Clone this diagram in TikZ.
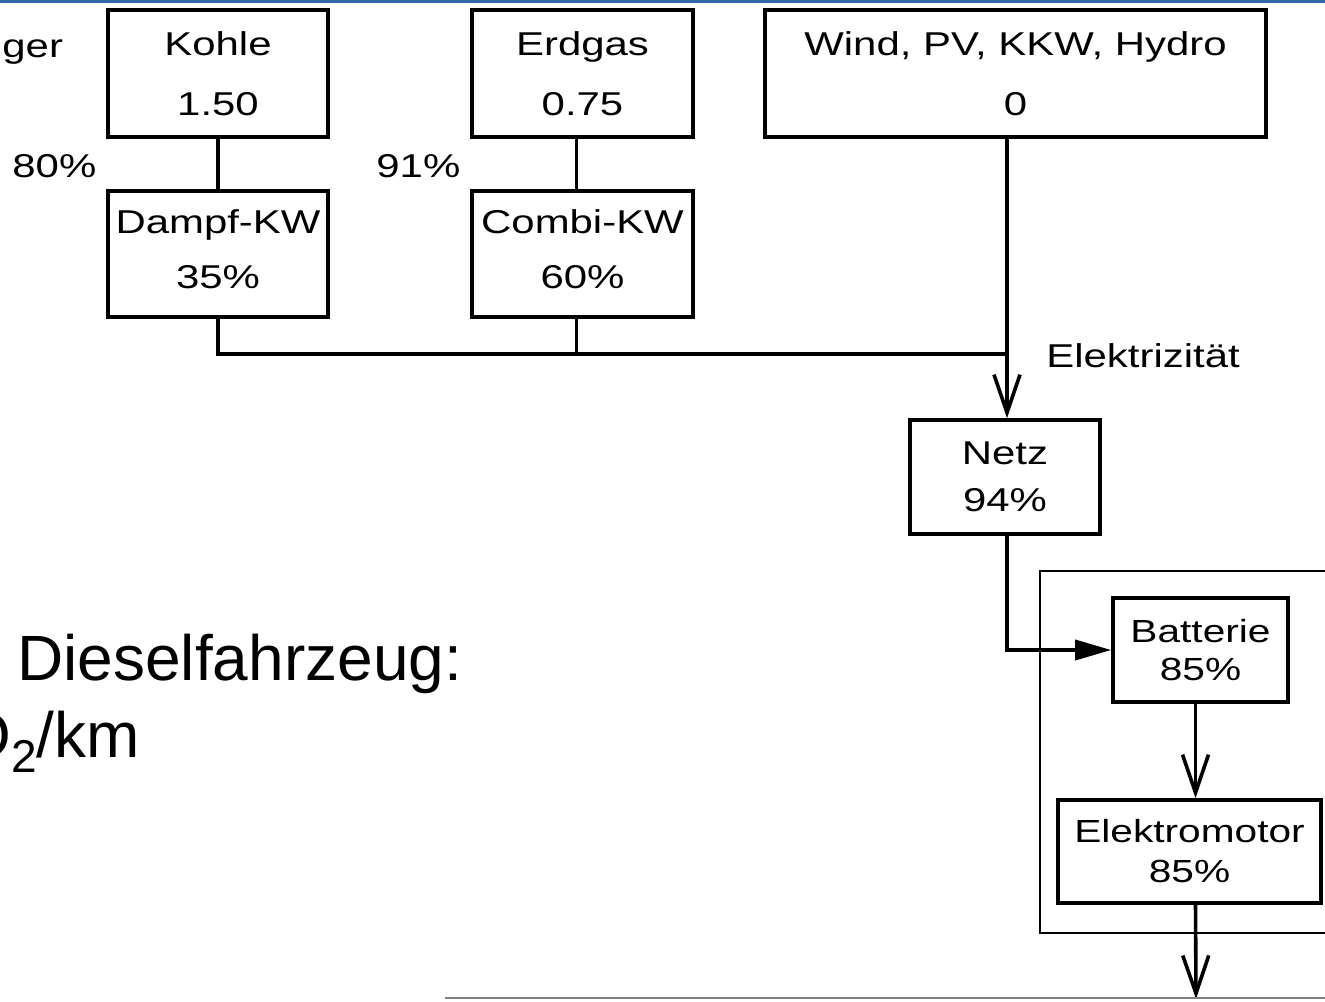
\documentclass[tikz,border=0pt]{standalone}
\usepackage{fontspec}
\usepackage{xcolor}
\usepackage{tikz}
\usetikzlibrary{arrows.meta,calc}
\setmainfont{Liberation Sans}
\newfontfamily\boxfont[FakeStretch=1.27]{Liberation Sans}
\definecolor{slideblue}{RGB}{52,104,170}
\tikzset{
  flowbox/.style={rectangle, draw=black, line width=1.8pt, inner sep=0pt,
    align=center, font=\boxfont\fontsize{16.5}{30}\selectfont},
  flowline/.style={line width=1.8pt},
  openarrow/.style={flowline, -{Straight Barb[length=19pt,width=13pt,line width=1.8pt]}},
  fullarrow/.style={flowline, -{Triangle[length=18pt,width=10pt]}},
  plainlabel/.style={anchor=base west, inner sep=0pt, font=\boxfont\fontsize{16.5}{19}\selectfont}
}
\begin{document}
\begin{tikzpicture}[x=0.5pt,y=-0.5pt]
\useasboundingbox (0,0) rectangle (1325,1001);
\clip (0,0) rectangle (1325,1001);
\fill[slideblue] (0,0) rectangle (1325,3);

\node[flowbox, minimum width=110pt, minimum height=63.5pt] (kohle) at (218,73.5) {Kohle\\1.50};
\node[flowbox, minimum width=110.5pt, minimum height=63.5pt] (erdgas) at (582.5,73.5) {Erdgas\\0.75};
\node[flowbox, minimum width=250.5pt, minimum height=63.5pt] (wind) at (1015.5,73.5) {Wind, PV, KKW, Hydro\\0};
\node[flowbox, minimum width=110pt, minimum height=63pt, text depth=5pt,
      font=\boxfont\fontsize{16.5}{27.5}\selectfont] (dampf) at (218,254) {Dampf-KW\\35\%};
\node[flowbox, minimum width=110.5pt, minimum height=63pt, text depth=5pt,
      font=\boxfont\fontsize{16.5}{27.5}\selectfont] (combi) at (582.5,254) {Combi-KW\\60\%};
\node[flowbox, minimum width=95pt, minimum height=57pt,
      font=\boxfont\fontsize{16.5}{23.5}\selectfont] (netz) at (1005,477) {Netz\\94\%};
\node[flowbox, minimum width=87.5pt, minimum height=52pt,
      font=\boxfont\fontsize{16}{19}\selectfont] (batterie) at (1200.5,650) {Batterie\\85\%};
\node[flowbox, minimum width=131.5pt, minimum height=51.5pt,
      font=\boxfont\fontsize{16}{20}\selectfont] (motor) at (1189.5,851.5) {Elektromotor\\85\%};

\node[plainlabel] (traeger) at (2,57) {ger};
\node[plainlabel] (wkohle) at (12,177) {80\%};
\node[plainlabel] (werdgas) at (376,177) {91\%};
\node[plainlabel] (strom) at (1046,367) {Elektrizität};

\coordinate (bus) at (1007,354);
\coordinate (ende) at (1196,999);

\draw[flowline] (kohle.south) -- (dampf.north);
\draw[flowline] ($(erdgas.south)+(-6,0)$) -- ($(combi.north)+(-6,0)$);
\draw[flowline] (dampf.south) -- (dampf.south |- bus) -- (bus);
\draw[flowline] ($(combi.south)+(-6,0)$) -- ($(combi.south |- bus)+(-6,0)$);
\draw[openarrow] (wind.south -| bus) -- (bus |- netz.north);
\draw[fullarrow] (netz.south -| bus) |- (batterie.west);
\draw[openarrow] ($(batterie.south)+(-5,0)$) -- ($(batterie.south |- motor.north)+(-5,0)$);
\draw[openarrow] ($(motor.south)+(6,0)$) -- (ende);

\draw[line width=0.75pt] (1330,571) -| (1040,933) -- (1330,933);
\draw[gray, line width=1pt] (445,998) -- (1325,998);

\node[anchor=base west, inner sep=0pt, font=\fontsize{32}{38}\selectfont] (diesel) at (17,680) {Dieselfahrzeug:};
\node[anchor=base west, inner sep=0pt, font=\fontsize{32}{38}\selectfont] (ausstoss) at (-39,757)
  {O\raisebox{-7.5pt}{\fontsize{23}{23}\selectfont 2}/km};
\end{tikzpicture}
\end{document}
